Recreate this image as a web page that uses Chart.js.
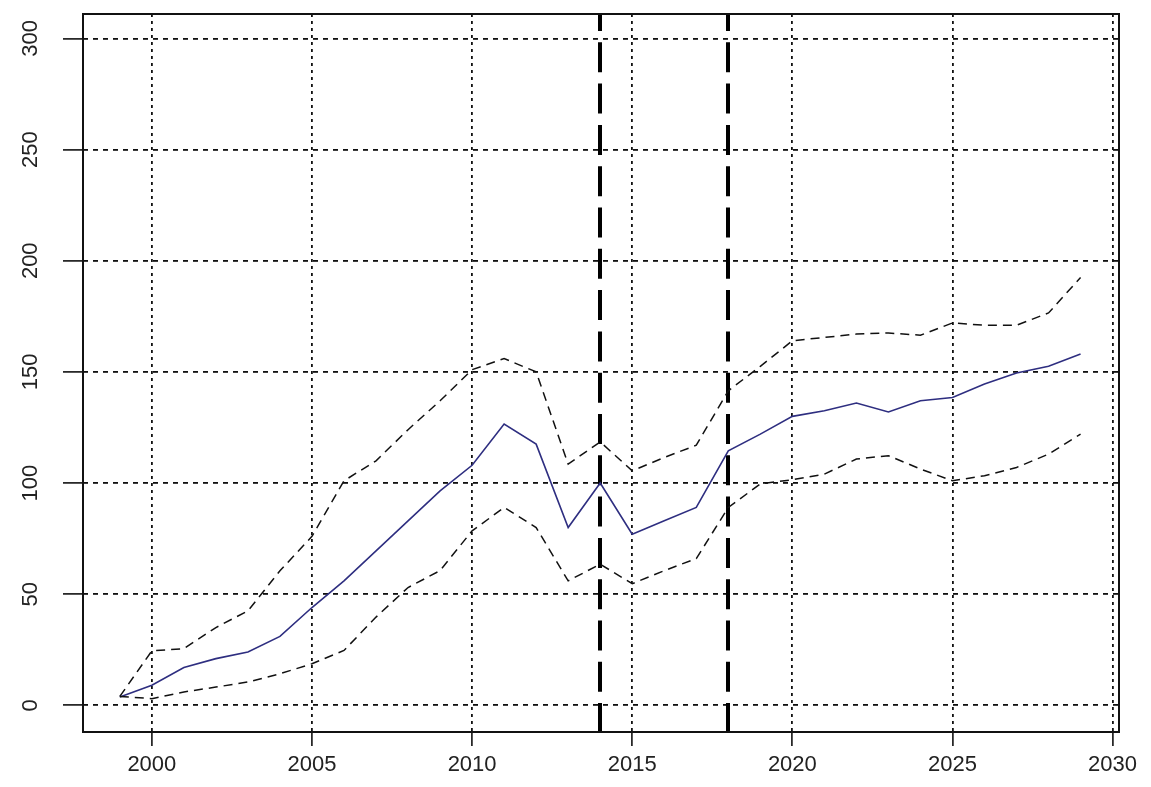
<!DOCTYPE html>
<html>
<head>
<meta charset="utf-8">
<title>Forecast</title>
<script src="https://cdn.jsdelivr.net/npm/chart.js@4/dist/chart.umd.min.js"></script>
<style>
  html, body { margin: 0; padding: 0; background: #ffffff; }
  #wrap { width: 1151px; height: 787px; }
</style>
</head>
<body>
<div id="wrap"><canvas id="c" width="1151" height="787"></canvas></div>
<script>
// Years of the series
const years = [1999, 2000, 2001, 2002, 2003, 2004, 2005, 2006, 2007, 2008,
               2009, 2010, 2011, 2012, 2013, 2014, 2015, 2016, 2017, 2018,
               2019, 2020, 2021, 2022, 2023, 2024, 2025, 2026, 2027, 2028, 2029];

// Central estimate
const meanValues = [3.7, 9, 17, 21, 24, 31, 44, 56, 69.5, 83,
                    96.5, 108, 126.5, 117.5, 80, 100, 77, 83, 89, 114.5,
                    122, 130, 132.5, 136, 132, 137, 138.5, 144.5, 149.5, 152.5, 158];

// Upper band
const upperValues = [4, 24.5, 25.5, 35, 42.5, 60.5, 76, 101, 110, 124,
                     137, 151, 156, 150, 108.5, 118.5, 105.5, 111.5, 117, 141.5,
                     152.5, 164, 165.5, 167, 167.5, 166.5, 172, 171, 171, 176.5, 192.5];

// Lower band
const lowerValues = [4, 3, 6, 8.2, 10.5, 14.2, 18.7, 24.7, 39.7, 53,
                     60.6, 78.5, 89, 80, 56, 63.5, 54.7, 60.6, 66, 89,
                     99.6, 101.5, 104, 110.8, 112.3, 106.3, 101, 103.3, 107, 113, 122];

// Marked years (vertical reference lines)
const markerYears = [2014, 2018];

// Axis ticks
const xTicks = [2000, 2005, 2010, 2015, 2020, 2025, 2030];
const yTicks = [0, 50, 100, 150, 200, 250, 300];

const toPoints = vals => years.map((yr, i) => ({ x: yr, y: vals[i] }));

const FONT = '"Liberation Sans", Arial, sans-serif';
const TEXT = '#222222';

// Box around the plotting region, the marker lines and the rotated y labels
const decorations = {
  id: 'decorations',
  beforeDatasetsDraw(chart) {
    const { ctx, chartArea: a, scales } = chart;
    ctx.save();
    ctx.beginPath();
    ctx.rect(a.left, a.top, a.right - a.left, a.bottom - a.top);
    ctx.clip();
    ctx.strokeStyle = '#000';
    ctx.lineWidth = 4;
    ctx.setLineDash([30, 11.3]);
    ctx.lineDashOffset = 13;
    markerYears.forEach(yr => {
      const px = Math.round(scales.x.getPixelForValue(yr));
      ctx.beginPath();
      ctx.moveTo(px, a.top);
      ctx.lineTo(px, a.bottom);
      ctx.stroke();
    });
    ctx.restore();
  },
  afterDraw(chart) {
    const { ctx, chartArea: a, scales } = chart;
    ctx.save();
    ctx.strokeStyle = '#111';
    ctx.lineWidth = 2;
    ctx.setLineDash([]);
    ctx.strokeRect(a.left, a.top, a.right - a.left, a.bottom - a.top);

    ctx.fillStyle = TEXT;
    ctx.font = '22px ' + FONT;
    ctx.textAlign = 'center';
    ctx.textBaseline = 'alphabetic';
    yTicks.forEach(v => {
      const py = scales.y.getPixelForValue(v);
      ctx.save();
      ctx.translate(37, py);
      ctx.rotate(-Math.PI / 2);
      ctx.fillText(String(v), 0, 0);
      ctx.restore();
    });
    ctx.restore();
  }
};

new Chart(document.getElementById('c'), {
  type: 'line',
  data: {
    datasets: [
      {
        label: 'Upper',
        data: toPoints(upperValues),
        borderColor: '#111',
        borderWidth: 1.5,
        borderDash: [9, 6],
        pointRadius: 0,
        tension: 0,
        fill: false
      },
      {
        label: 'Lower',
        data: toPoints(lowerValues),
        borderColor: '#111',
        borderWidth: 1.5,
        borderDash: [9, 6],
        pointRadius: 0,
        tension: 0,
        fill: false
      },
      {
        label: 'Estimate',
        data: toPoints(meanValues),
        borderColor: '#2e2e80',
        borderWidth: 1.6,
        pointRadius: 0,
        tension: 0,
        fill: false
      }
    ]
  },
  options: {
    responsive: false,
    animation: false,
    events: [],
    layout: { padding: { left: 0, right: 32, top: 14, bottom: 0 } },
    plugins: {
      legend: { display: false },
      tooltip: { enabled: false },
      title: { display: false }
    },
    scales: {
      x: {
        type: 'linear',
        min: 1997.85,
        max: 2030.2,
        afterBuildTicks: s => { s.ticks = xTicks.map(v => ({ value: v })); },
        afterFit: s => { s.height = 55; s.paddingLeft = 0; s.paddingRight = 0; },
        border: { display: false, dash: [3, 4] },
        grid: {
          color: '#111',
          lineWidth: 1.8,
          drawTicks: true,
          tickLength: 14,
          tickColor: '#111',
          tickWidth: 1.6,
          tickBorderDash: []
        },
        ticks: {
          color: TEXT,
          font: { family: FONT, size: 22 },
          padding: 6,
          maxRotation: 0,
          minRotation: 0,
          callback: v => String(v)
        }
      },
      y: {
        type: 'linear',
        min: -12,
        max: 311,
        afterBuildTicks: s => { s.ticks = yTicks.map(v => ({ value: v })); },
        afterFit: s => { s.width = 83; s.paddingTop = 0; s.paddingBottom = 0; },
        border: { display: false, dash: [5, 5] },
        grid: {
          color: '#111',
          lineWidth: 1.8,
          drawTicks: true,
          tickLength: 20,
          tickColor: '#111',
          tickWidth: 1.6,
          tickBorderDash: []
        },
        ticks: { display: false }
      }
    }
  },
  plugins: [decorations]
});
</script>
</body>
</html>
